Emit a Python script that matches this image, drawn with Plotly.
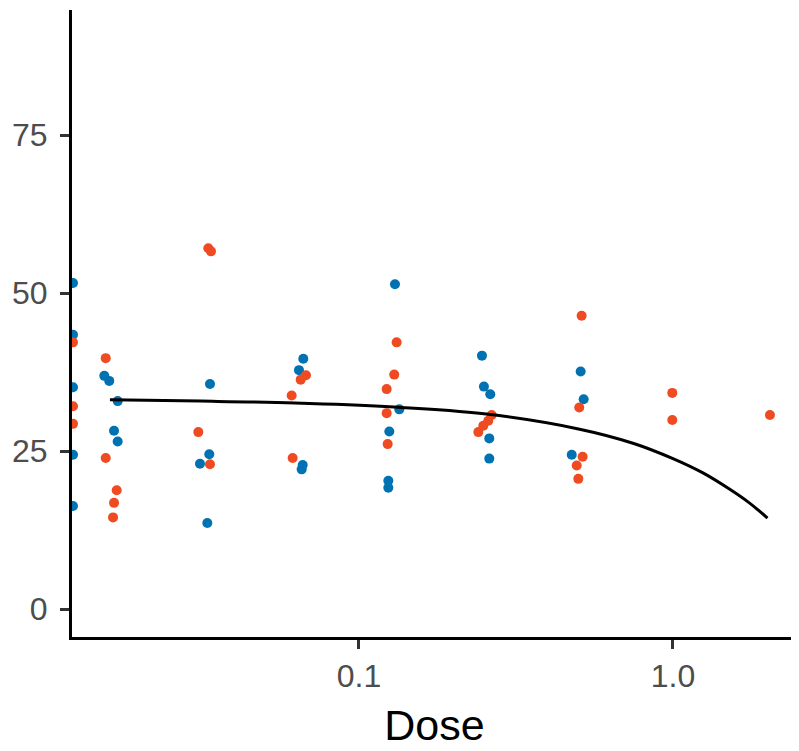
import plotly.graph_objects as go

# Blue series (jittered dose, response)
blue_x = [0.01228, 0.01228, 0.01228, 0.01228, 0.01228,
          0.01545, 0.01602, 0.01704, 0.01659, 0.01704,
          0.03353, 0.03336, 0.03116, 0.03288,
          0.06647, 0.06440, 0.06618, 0.06569,
          0.1302, 0.1344, 0.1249, 0.1240, 0.1240,
          0.2464, 0.2500, 0.2619, 0.2600, 0.2600,
          0.5082, 0.5194, 0.4759]
blue_y = [51.6, 43.4, 35.1, 24.4, 16.3,
          36.9, 36.1, 32.9, 28.2, 26.5,
          35.6, 24.5, 23.0, 13.6,
          39.6, 37.8, 22.8, 22.1,
          51.4, 31.6, 28.1, 20.3, 19.2,
          40.1, 35.2, 34.0, 27.0, 23.8,
          37.6, 33.2, 24.4]

# Red series
red_x = [0.01228, 0.01228, 0.01228,
         0.01561, 0.01561, 0.01692, 0.01659, 0.01647,
         0.03078, 0.03353, 0.03312, 0.03378,
         0.06780, 0.06521, 0.06103, 0.06148,
         0.1318, 0.1295, 0.1225, 0.1225, 0.1234,
         0.2646, 0.2581, 0.2488, 0.2399,
         0.5118, 0.5029, 0.5156, 0.4937, 0.4995,
         0.995, 0.995,
         2.036]
red_y = [42.2, 32.1, 29.3,
         39.7, 23.9, 18.8, 16.8, 14.5,
         28.0, 22.9, 57.1, 56.6,
         37.0, 36.3, 33.8, 23.9,
         42.2, 37.1, 34.8, 31.0, 26.1,
         30.7, 29.8, 29.0, 28.0,
         46.4, 31.9, 24.1, 22.7, 20.6,
         34.2, 29.9,
         30.7]

# Fitted curve
fit_x = [0.0161, 0.03125, 0.0625, 0.125, 0.25, 0.5, 0.75, 1.0, 1.25, 1.5, 1.75, 2.0]
fit_y = [33.1, 32.9, 32.6, 32.0, 30.9, 28.5, 26.2, 23.8, 21.5, 19.1, 16.8, 14.4]

x_tickvals = [0.1, 1.0]
x_ticktext = ["0.1", "1.0"]
y_tickvals = [0, 25, 50, 75]

BLUE = "#0072B2"
RED = "#EF4B22"
FONT = "Liberation Sans, Arial, sans-serif"

fig = go.Figure()
fig.add_trace(go.Scatter(x=blue_x, y=blue_y, mode="markers",
                         marker=dict(color=BLUE, size=10, line=dict(width=0)),
                         showlegend=False))
fig.add_trace(go.Scatter(x=red_x, y=red_y, mode="markers",
                         marker=dict(color=RED, size=10, line=dict(width=0)),
                         showlegend=False))
fig.add_trace(go.Scatter(x=fit_x, y=fit_y, mode="lines",
                         line=dict(color="black", width=3, shape="spline"),
                         showlegend=False))

fig.update_layout(
    width=791, height=743,
    margin=dict(l=64, r=2, t=2, b=114),
    plot_bgcolor="white", paper_bgcolor="white",
    font=dict(family=FONT),
)
fig.update_xaxes(
    type="log", range=[-1.914, 0.395],
    tickvals=x_tickvals, ticktext=x_ticktext,
    showgrid=False, zeroline=False,
    showline=True, linecolor="black", linewidth=3,
    ticks="outside", ticklen=9, tickwidth=2.5, tickcolor="#333333",
    tickfont=dict(size=32, color="#4D4D4D", family=FONT),
    ticklabelstandoff=0,
    title=dict(text="Dose", font=dict(size=43, color="black", family=FONT), standoff=17),
)
fig.update_yaxes(
    range=[-4.43, 94.8],
    tickvals=y_tickvals,
    showgrid=False, zeroline=False,
    showline=True, linecolor="black", linewidth=3,
    ticks="outside", ticklen=9, tickwidth=2.5, tickcolor="#333333",
    tickfont=dict(size=32, color="#4D4D4D", family=FONT),
    ticklabelstandoff=6,
)

fig.write_html("out.html")
